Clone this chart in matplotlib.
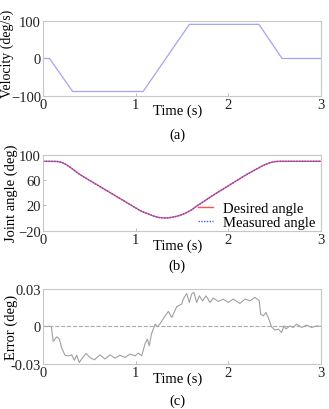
import matplotlib
matplotlib.use("Agg")
import matplotlib.pyplot as plt

# (a) velocity profile
vel_t = [0, 0.07, 0.32, 1.08, 1.58, 2.33, 2.58, 3.0]
vel = [0, 0, -88, -88, 91, 91, 0, 0]

# (b) joint angle
ang_t = [0, 0.15, 0.2, 0.25, 0.3, 0.35, 0.4, 0.507, 0.687, 0.867, 1.047,
         1.08, 1.15, 1.2, 1.25, 1.3, 1.35, 1.4, 1.45, 1.5, 1.55, 1.6,
         1.658, 1.838, 2.018, 2.197, 2.3, 2.35, 2.4, 2.45, 2.5, 2.55, 3.0]
ang_desired = [89.6, 89.4, 88.0, 84.5, 79.5, 74.0, 68.6, 59.1, 43.4, 27.7,
               11.9, 9.6, 5.6, 2.8, 0.9, 0.1, 0.2, 1.4, 3.0, 5.4, 8.6, 12.6,
               18.8, 36.2, 52.6, 68.8, 77.0, 81.0, 84.6, 87.4, 89.1, 89.6, 89.6]
ang_measured = [89.6, 89.4, 88.0, 84.4, 79.4, 73.9, 68.5, 59.0, 43.3, 27.6,
                11.8, 9.5, 5.6, 2.8, 0.9, 0.1, 0.2, 1.4, 3.0, 5.4, 8.6, 12.6,
                18.8, 36.2, 52.6, 68.8, 77.0, 81.0, 84.6, 87.4, 89.1, 89.6, 89.6]

# (c) tracking error
err_t = [0, 0.09, 0.11, 0.147, 0.176, 0.2, 0.237, 0.273, 0.31, 0.338, 0.363,
         0.392, 0.417, 0.464, 0.507, 0.554, 0.615, 0.669, 0.723, 0.777, 0.83,
         0.885, 0.939, 0.993, 1.03, 1.065, 1.10, 1.126, 1.147, 1.17, 1.21,
         1.234, 1.26, 1.306, 1.353, 1.39, 1.442, 1.496, 1.514, 1.55, 1.579,
         1.604, 1.629, 1.658, 1.687, 1.723, 1.759, 1.802, 1.838, 1.892, 1.946,
         2.0, 2.054, 2.125, 2.18, 2.233, 2.287, 2.313, 2.334, 2.348, 2.377,
         2.406, 2.431, 2.467, 2.503, 2.539, 2.575, 2.6, 2.622, 2.665, 2.701,
         2.737, 2.791, 2.845, 2.899, 2.953, 3.0]
err = [0, 0, -0.012, -0.0083, -0.010, -0.0168, -0.023, -0.0235, -0.0227,
       -0.027, -0.023, -0.0288, -0.026, -0.0216, -0.0248, -0.0267, -0.0227,
       -0.026, -0.0227, -0.0253, -0.023, -0.0248, -0.0221, -0.0235, -0.0213,
       -0.0235, -0.0141, -0.0101, -0.0155, -0.0061, 0.0019, -0.0003, 0.0019,
       0.0072, 0.012, 0.0072, 0.0157, 0.0179, 0.0219, 0.0264, 0.0192, 0.0259,
       0.0272, 0.0192, 0.0245, 0.0205, 0.0245, 0.0192, 0.0227, 0.020, 0.0219,
       0.0192, 0.0219, 0.0184, 0.0219, 0.0205, 0.0232, 0.0219, 0.0205, 0.0099,
       0.0085, 0.0112, 0.0072, -0.0003, -0.0029, -0.0021, -0.0048, 0.0005,
       -0.002, 0.0005, -0.0008, 0.0019, -0.0008, 0.0011, -0.0008, 0.0005, 0]

xticks = [0, 1, 2, 3]

plt.rcParams['font.family'] = ['Liberation Serif', 'DejaVu Serif']
plt.rcParams['font.size'] = 10.5

fig = plt.figure(figsize=(3.29, 4.10), dpi=100)
left, width = 0.1307, 0.845
ax_a = fig.add_axes([left, 0.7634, width, 0.183])
ax_b = fig.add_axes([left, 0.4349, width, 0.1853])
ax_c = fig.add_axes([left, 0.1098, width, 0.183])


def style(ax, ylabel):
    for s in ax.spines.values():
        s.set_color('#c8c8c8')
        s.set_linewidth(0.8)
    ax.tick_params(direction='in', length=2, width=0.6, color='#b0b0b0',
                   pad=1.5, labelcolor='#222222')
    ax.set_xlim(0, 3)
    ax.set_xticks(xticks)
    ax.set_xlabel('Time (s)', labelpad=0)
    ax.xaxis.set_label_coords(0.485, -0.1)
    ax.set_ylabel(ylabel)
    ax.yaxis.set_label_coords(-0.09, 0.5)


ax_a.plot(vel_t, vel, color='#a4a4f0', lw=0.9)
ax_a.set_ylim(-100, 100)
ax_a.set_yticks([-100, 0, 100])
style(ax_a, 'Velocity (deg/s)')
ax_a.yaxis.label.set_fontsize(10)
ax_a.yaxis.set_label_coords(-0.105, 0.58)

ax_b.plot(ang_t, ang_desired, color='#ff5050', lw=1.0, label='Desired angle')
ax_b.plot(ang_t, ang_measured, color='#5050ff', lw=1.0, ls=(0, (1, 1)),
          label='Measured angle')
ax_b.set_ylim(-20, 100)
ax_b.set_yticks([-20, 20, 60, 100])
style(ax_b, 'Joint angle (deg)')
ax_b.legend(loc='lower right', bbox_to_anchor=(1.0, -0.06), frameon=False,
            handlelength=1.0, handletextpad=0.7, labelspacing=0.05,
            borderaxespad=0, fontsize=10.5)

ax_c.plot(err_t, err, color='#a0a0a0', lw=0.8)
ax_c.axhline(0, color='#aaaaaa', lw=0.8, ls='--')
ax_c.set_ylim(-0.03, 0.03)
ax_c.set_yticks([-0.03, 0, 0.03])
ax_c.set_yticklabels(['-0.03', '0', '0.03'])
style(ax_c, 'Error (deg)')

fig.text(0.538, 0.671, '(a)', ha='center', va='center')
fig.text(0.538, 0.351, '(b)', ha='center', va='center')
fig.text(0.538, 0.022, '(c)', ha='center', va='center')

fig.savefig('out.png', dpi=100)
